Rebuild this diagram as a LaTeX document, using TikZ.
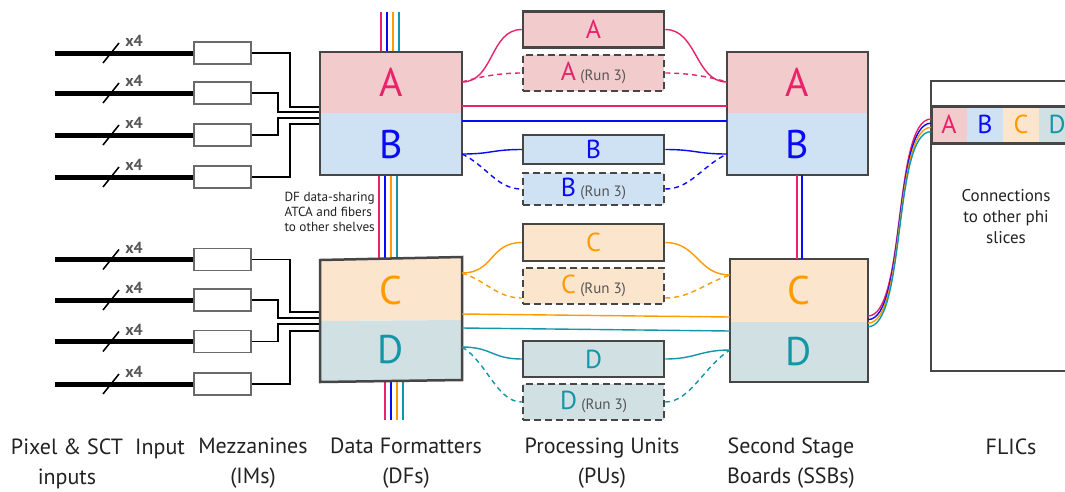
\documentclass[tikz,border=0pt]{standalone}
\usepackage{fontspec}
\setmainfont{PT Sans}
\usetikzlibrary{calc}
\definecolor{Afill}{HTML}{F2CCCC}
\definecolor{Bfill}{HTML}{CFE2F3}
\definecolor{Cfill}{HTML}{FCE5CD}
\definecolor{Dfill}{HTML}{D0E0E3}
\definecolor{Atxt}{HTML}{E8236B}
\definecolor{Btxt}{HTML}{0A0AF5}
\definecolor{Ctxt}{HTML}{FF9A00}
\definecolor{Dtxt}{HTML}{1296A8}
\definecolor{bord}{HTML}{464646}
\definecolor{imbord}{HTML}{6A6A6A}
\definecolor{runc}{HTML}{555555}
\definecolor{labc}{HTML}{222222}
\newcommand\runlbl{{\fontsize{15}{15}\selectfont\color{runc}(Run 3)}}
\tikzset{
  half/.style={inner sep=0pt, minimum width=142pt, font=\fontsize{40}{40}\selectfont},
  lbl/.style={inner sep=0pt, font=\fontsize{40}{40}\selectfont},
  box/.style={draw=bord, line width=2.5pt},
  pu/.style={draw=bord, line width=2.5pt, inner sep=0pt, minimum width=141pt, font=\fontsize{26}{26}\selectfont},
  purun/.style={pu, dash pattern=on 7pt off 4pt},
  im/.style={draw=imbord, line width=1.6pt, fill=white, minimum width=57pt, minimum height=22pt, inner sep=0pt},
  inline/.style={line width=5pt, black},
  slash/.style={line width=1.5pt, black},
  xfour/.style={inner sep=0pt, text=runc, font=\fontsize{16}{16}\selectfont\bfseries},
  wire/.style={line width=1.5pt, black},
  link/.style={line width=1.4pt},
  dlink/.style={line width=1.4pt, dash pattern=on 5pt off 4pt},
  cell/.style={inner sep=0pt, minimum width=36pt, minimum height=37pt, font=\fontsize{26}{26}\selectfont},
  bottomlab/.style={align=center, text=labc, font=\fontsize{22}{30}\selectfont},
  note/.style={align=left, text=labc, font=\fontsize{13.2}{15}\selectfont}
}
\begin{document}
\begin{tikzpicture}[x=1pt,y=-1pt]
\useasboundingbox (0,0) rectangle (1065,491);
\fill[white] (0,0) rectangle (1065,491);
\clip (0,0) rectangle (1065,491);

% inputs and IMs
\foreach \i/\y in {1/53,2/93,3/135,4/177,5/259.5,6/300,7/341.5,8/384} {
  \coordinate (in\i) at (55,\y);
  \draw[inline] (in\i) -- (194,\y);
  \node[im] (im\i) at (222.5,\y) {};
  \draw[slash] (103,\y+10) -- (119,\y-10);
  \node[xfour] (x\i) at (134,\y-12) {x4};
}
\foreach \i/\xb/\ye in {1/290/107,2/278/112,3/278/118,4/290/124,5/290/312,6/278/318,7/278/324,8/290/331} {
  \coordinate (dfin\i) at (320,\ye);
  \draw[wire] (im\i.east) -| (\xb,\ye) -- (dfin\i);
}

% vertical DF sharing lines
\foreach \c/\dx in {Atxt/0,Btxt/6,Ctxt/12,Dtxt/18} {
  \draw[link,\c] (381+\dx,12) -- (381+\dx,52);
  \draw[link,\c] (379+\dx,175) -- (379+\dx,259);
  \draw[link,\c] (385+\dx,381) -- (385+\dx,420);
}

% DF top
\node[half, fill=Afill, text=Atxt, minimum height=61pt] (dfA) at (391,82.5) {A};
\node[half, fill=Bfill, text=Btxt, minimum height=62pt] (dfB) at (391,144) {B};
\draw[box] (dfA.north west) rectangle (dfB.south east);

% DF bottom (slightly tilted)
\fill[Cfill] (320,260) -- (462,257) -- (462,320) -- (320,321) -- cycle;
\fill[Dfill] (320,321) -- (462,320) -- (462,380) -- (320,382) -- cycle;
\draw[box] (320,260) -- (462,257) -- (462,380) -- (320,382) -- cycle;
\node[lbl, text=Ctxt] (dfC) at (391,290) {C};
\node[lbl, text=Dtxt] (dfD) at (391,350) {D};

\node[note, anchor=west] (dfnote) at (281,212) {DF data-sharing\\ATCA and fibers\\to other shelves};

% SSBs
\node[half, fill=Afill, text=Atxt, minimum width=141pt, minimum height=61pt] (ssA) at (797.5,82.5) {A};
\node[half, fill=Bfill, text=Btxt, minimum width=141pt, minimum height=62pt] (ssB) at (797.5,144) {B};
\draw[box] (ssA.north west) rectangle (ssB.south east);
\node[half, fill=Cfill, text=Ctxt, minimum width=138pt, minimum height=63pt] (ssC) at (799,290.5) {C};
\node[half, fill=Dfill, text=Dtxt, minimum width=138pt, minimum height=60pt] (ssD) at (799,352) {D};
\draw[box] (ssC.north west) rectangle (ssD.south east);

\draw[link,Atxt] (797,175) coordinate (ssv1) -- (797,259) coordinate (ssv2);
\draw[link,Btxt] (802,175) coordinate (ssv3) -- (802,259) coordinate (ssv4);

% PUs
\node[pu, fill=Afill, text=Atxt, minimum height=36pt] (puA) at (593.5,29.5) {A};
\node[purun, fill=Afill, minimum height=36pt] (puA3) at (593.5,73) {\textcolor{Atxt}{A}\,\runlbl};
\node[pu, fill=Bfill, text=Btxt, minimum height=29pt] (puB) at (593.5,149.5) {B};
\node[purun, fill=Bfill, minimum height=32pt] (puB3) at (593.5,189) {\textcolor{Btxt}{B}\,\runlbl};
\node[pu, fill=Cfill, text=Ctxt, minimum height=37pt] (puC) at (593.5,242.5) {C};
\node[purun, fill=Cfill, minimum height=36pt] (puC3) at (593.5,286) {\textcolor{Ctxt}{C}\,\runlbl};
\node[pu, fill=Dfill, text=Dtxt, minimum height=36pt] (puD) at (593.5,359) {D};
\node[purun, fill=Dfill, minimum height=36pt] (puD3) at (593.5,402) {\textcolor{Dtxt}{D}\,\runlbl};

% connection points
\coordinate (dfAr) at (462,82);  \coordinate (ssAl) at (727,82);
\coordinate (dfBr) at (462,154); \coordinate (ssBl) at (727,154);
\coordinate (dfCr) at (462,273); \coordinate (ssCl) at (730,275);
\coordinate (dfDr) at (462,347); \coordinate (ssDl) at (730,350);

% A
\draw[link,Atxt] (dfAr) .. controls +(32,0) and +(-32,0) .. (puA.west);
\draw[link,Atxt] (puA.east) .. controls +(32,0) and +(-32,0) .. (ssAl);
\draw[dlink,Atxt] (dfAr) .. controls +(20,-6) and +(-20,0) .. (puA3.west);
\draw[dlink,Atxt] (puA3.east) .. controls +(20,0) and +(-20,-6) .. (ssAl);
\draw[link,Atxt] (462,106) coordinate (dfAs) -- (727,106) coordinate (ssAs);
\draw[link,Btxt] (462,121) coordinate (dfBs) -- (727,121) coordinate (ssBs);
% B
\draw[link,Btxt] (dfBr) .. controls +(30,0) and +(-30,0) .. (puB.west);
\draw[link,Btxt] (puB.east) .. controls +(30,0) and +(-30,0) .. (ssBl);
\draw[dlink,Btxt] (dfBr) .. controls +(25,12) and +(-25,0) .. (puB3.west);
\draw[dlink,Btxt] (puB3.east) .. controls +(25,0) and +(-25,12) .. (ssBl);
% C
\draw[link,Ctxt] (dfCr) .. controls +(32,0) and +(-32,0) .. (puC.west);
\draw[link,Ctxt] (puC.east) .. controls +(32,0) and +(-32,0) .. (ssCl);
\draw[dlink,Ctxt] (dfCr) .. controls +(25,8) and +(-25,0) .. ([yshift=-12pt]puC3.west);
\draw[dlink,Ctxt] ([yshift=-12pt]puC3.east) .. controls +(25,0) and +(-25,8) .. (ssCl);
\draw[link,Ctxt] (462,314) coordinate (dfCs) -- (730,317) coordinate (ssCs);
\draw[link,Dtxt] (462,328) coordinate (dfDs) -- (730,331) coordinate (ssDs);
% D
\draw[link,Dtxt] (dfDr) .. controls +(30,0) and +(-30,0) .. (puD.west);
\draw[link,Dtxt] (puD.east) .. controls +(30,0) and +(-30,0) .. (ssDl);
\draw[dlink,Dtxt] (dfDr) .. controls +(25,15) and +(-25,0) .. (puD3.west);
\draw[dlink,Dtxt] (puD3.east) .. controls +(25,0) and +(-25,15) .. (ssDl);

% FLIC
\draw[box] (931,81) rectangle (1095,371);
\node[cell, fill=Afill, text=Atxt] (fA) at (949,124.5) {A};
\node[cell, fill=Bfill, text=Btxt] (fB) at (985,124.5) {B};
\node[cell, fill=Cfill, text=Ctxt] (fC) at (1021,124.5) {C};
\node[cell, fill=Dfill, text=Dtxt] (fD) at (1057,124.5) {D};
\draw[bord, line width=3pt] (931,106) rectangle (1095,143);
\node[align=center, text=labc, font=\fontsize{17}{21}\selectfont] (conn) at (1006,217) {Connections\\to other phi\\slices};

\foreach \c/\i in {Atxt/0,Btxt/1,Ctxt/2,Dtxt/3} {
  \draw[link,\c] (868,316+\i*3.6) .. controls +(38,0) and +(-38,0) .. (931,119+\i*4.2);
}

% bottom labels
\node[bottomlab] (l1) at (67,463.5) {Pixel \& SCT\\inputs};
\node[bottomlab] (l2) at (160,449) {Input};
\node[bottomlab] (l3) at (253,463.5) {Mezzanines\\(IMs)};
\node[bottomlab] (l4) at (406,463.5) {Data Formatters\\(DFs)};
\node[bottomlab] (l5) at (602,463.5) {Processing Units\\(PUs)};
\node[bottomlab] (l6) at (791,463.5) {Second Stage\\Boards (SSBs)};
\node[bottomlab] (l7) at (1011,447) {FLICs};
\end{tikzpicture}
\end{document}
